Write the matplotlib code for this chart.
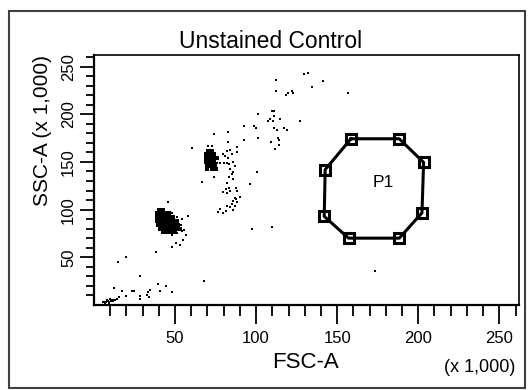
import matplotlib
matplotlib.use('Agg')
import matplotlib.pyplot as plt
from matplotlib.patches import Rectangle

plt.rcParams['font.family'] = ['Liberation Sans', 'DejaVu Sans']

# events, FSC-A / SSC-A in thousands
debris_fsc = [6.5, 7.5, 8.5, 9.5, 10.5, 11.5, 7, 9, 12, 8, 10, 5.5,
              11.3, 12.8, 14.4, 15.4, 19.6, 28.4, 28.4, 32.9, 34, 33.3, 34.6,
              12.3, 17.5, 23.6, 24.7, 14.8, 19.9, 28.4, 39.5, 44.4, 48.1, 40.7,
              38.3, 67.9, 173.3]
debris_ssc = [3.5, 3, 4, 3.2, 4.5, 3.8, 2.2, 2.5, 5.5, 5, 5.8, 2.8,
              4.8, 5.5, 6.6, 8.3, 9.3, 9.3, 5.8, 10.1, 8.3, 13.6, 16.1,
              18.2, 14.3, 14.3, 14.3, 45.3, 50, 30.5, 22.5, 19.9, 14, 14.3,
              55.9, 24.9, 35.2]

lymph_fsc = [48.3, 51, 54.5, 58.2, 53.9, 55.6, 56.6, 55.1, 50.4, 53.1, 48.3,
             45.7, 48.3, 51.4, 52.5, 54.5, 45.7]
lymph_ssc = [96.6, 92.4, 90.3, 93, 84.2, 78.9, 73.6, 68.3, 64.8, 63, 60.6,
             75.4, 73.6, 75.4, 80.7, 77.1, 107.5]

lymph_core_fsc = [40, 42.5,
                  39, 41.5, 44, 46.5,
                  39, 41.5, 44, 46.5, 49,
                  39, 41.5, 44, 46.5, 49, 51,
                  39.5, 42, 44.5, 47, 49.5, 52,
                  40.5, 43, 45.5, 48, 50.5, 53,
                  42.5, 45, 47.5, 50]
lymph_core_ssc = [100, 100,
                  96, 96, 96, 96,
                  92, 92, 92, 92, 92,
                  88, 88, 88, 88, 88, 88,
                  84, 84, 84, 84, 84, 84,
                  80, 80, 80, 80, 80, 80,
                  76.5, 76.5, 76.5, 76.5]

mono_fsc = [79.4, 80.9, 82.3, 84, 88.1, 88.5, 85, 82.9, 86, 83.5, 87,
            76, 78, 80, 82, 84, 86, 85, 83.1, 86, 81.9, 74.3, 66.9,
            60.5, 70.6, 72.6, 82.7, 92.6, 74.1]
mono_ssc = [158.4, 156.6, 161.9, 162.9, 165.5, 160.2, 158.4, 153.8, 149.6, 147.8, 146,
            148.8, 148.8, 148.8, 148.8, 142.5, 139.6, 137.2, 134.7, 131.9, 128.4, 134.7, 129,
            164.7, 166.5, 166.5, 170.8, 173.2, 179.6]

mono_core_fsc = [70.5, 73, 69, 71.5, 74, 69, 71.5, 74, 76,
                 69, 71.5, 74, 69.5, 72, 74.5, 70, 73, 75.5]
mono_core_ssc = [162, 162, 158, 158, 158, 154, 154, 154, 154,
                 150, 150, 150, 146, 146, 146, 143, 143, 143]

mid_fsc = [79.4, 81.5, 83.1, 84, 82.3, 87.7, 88.5, 90.1, 87, 86, 85, 87,
           84, 81.9, 81.5, 79.8, 77.8, 76.7, 86, 88.5, 87.7, 97.5, 110]
mid_ssc = [118.4, 121.3, 123.1, 119.5, 117.8, 123.1, 119.5, 113.6, 112.5, 108.9, 105.4, 104.3,
           103, 103.6, 98.3, 96.6, 100.8, 97.2, 100.1, 107.8, 110.7, 80, 81.4]

gran_fsc = [112.3, 112.3, 129.5, 131.9, 141, 134.6, 156.8, 118.5, 119.8, 122, 122.5,
            101.2, 110, 111.3, 111.1, 107.1, 108.3, 110.2, 114.8, 127.2,
            92.6, 98.8, 100.2, 111.1, 112.6, 117, 119,
            82.7, 101.2, 113.6, 109.1, 114.1, 114.1, 111.5, 96.3, 100.8]
gran_ssc = [235.6, 224.1, 242, 243.6, 234.6, 228.3, 221.9, 220, 221.9, 224, 222.5,
            200.8, 202.9, 202.9, 198.6, 193.2, 195, 193.2, 195, 193.2,
            188, 188, 185.9, 186, 183.8, 186, 184,
            181.7, 175.3, 175.3, 171.1, 173.2, 167.9, 163.5, 126.6, 139]

# P1 gate vertices
gate_fsc = [158.5, 188.3, 203.3, 202.3, 188.3, 157.0, 142.0, 142.6]
gate_ssc = [174.3, 174.3, 149.5, 96.6, 70.1, 70.1, 93.0, 142.0]
gate_name = 'P1'
gate_label_pos = (178.4, 128.7)

fig = plt.figure(figsize=(5.28, 3.9), dpi=100)
ax = fig.add_axes([94 / 528, 85 / 390, 425 / 528, 250 / 390])

for xs, ys in [(debris_fsc, debris_ssc), (lymph_fsc, lymph_ssc), (mono_fsc, mono_ssc),
               (mid_fsc, mid_ssc), (gran_fsc, gran_ssc)]:
    ax.plot(xs, ys, ls='', marker='s', ms=1.6, mew=0, color='black')
for xs, ys in [(lymph_core_fsc, lymph_core_ssc), (mono_core_fsc, mono_core_ssc)]:
    ax.plot(xs, ys, ls='', marker='s', ms=3.4, mew=0, color='black')

ax.plot(gate_fsc + gate_fsc[:1], gate_ssc + gate_ssc[:1], color='black', lw=2.2)
ax.plot(gate_fsc, gate_ssc, ls='', marker='s', ms=7.5, mfc='none', mec='black', mew=2.2)
ax.text(gate_label_pos[0], gate_label_pos[1], gate_name, fontsize=12.5, ha='center', va='center')

ax.set_xlim(0, 262.144)
ax.set_ylim(0, 262.144)
ax.set_xticks([50, 100, 150, 200, 250])
ax.set_yticks([50, 100, 150, 200, 250])
ax.set_xticks(range(10, 261, 10), minor=True)
ax.set_yticks(range(10, 261, 10), minor=True)
ax.tick_params(axis='x', which='major', length=13.5, width=1.3, labelsize=12, pad=5)
ax.tick_params(axis='x', which='minor', length=8, width=1.3)
ax.tick_params(axis='y', which='major', length=10, width=1.3, labelsize=12, pad=3)
ax.tick_params(axis='y', which='minor', length=6, width=1.3)
for lab in ax.get_yticklabels():
    lab.set_rotation(90)
    lab.set_va('center')
for side in ['left', 'bottom']:
    ax.spines[side].set_linewidth(1.6)
for side in ['top', 'right']:
    ax.spines[side].set_linewidth(1.2)

fig.text(271 / 528, 1 - 42 / 390, 'Unstained Control', fontsize=16.5, ha='center', va='center')
fig.text(306 / 528, 1 - 362 / 390, 'FSC-A', fontsize=16, ha='center', va='center')
fig.text(480 / 528, 1 - 368 / 390, '(x 1,000)', fontsize=13, ha='center', va='center')
fig.text(43 / 528, 1 - 131 / 390, 'SSC-A (x 1,000)', fontsize=15, ha='center', va='center',
         rotation=90)

fig.add_artist(Rectangle((9 / 528, 2 / 390), 516 / 528, 377 / 390, transform=fig.transFigure,
                         fill=False, ec='#404040', lw=1.5))

fig.savefig('out.png', dpi=100)
